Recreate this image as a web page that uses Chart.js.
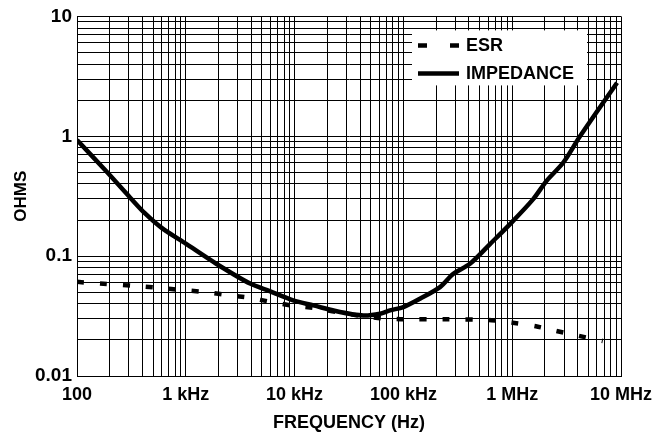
<!DOCTYPE html>
<html>
<head>
<meta charset="utf-8">
<script src="https://cdn.jsdelivr.net/npm/chart.js@4"></script>
<style>
  html, body { margin: 0; padding: 0; background: #fff; }
  #wrap { width: 672px; height: 434px; }
</style>
</head>
<body>
<div id="wrap"><canvas id="esrChart" width="672" height="434"></canvas></div>
<script>
// Data (Hz, ohms)
const ESR_FREQ = [100, 163, 402, 1000, 1556, 2550, 3800, 6150, 9700, 16500, 25000, 40000, 63000, 100000, 250000, 612000, 1050000, 1650000, 2530000, 4110000, 6800000];
const ESR_OHMS = [0.061, 0.059, 0.0558, 0.0518, 0.050, 0.047, 0.045, 0.0414, 0.0386, 0.0365, 0.034, 0.0318, 0.0303, 0.0297, 0.0297, 0.0293, 0.0277, 0.026, 0.0238, 0.0216, 0.0196];

const IMP_FREQ = [100, 184, 307, 420, 600, 1000, 1920, 3900, 5900, 9700, 14900, 26100, 42800, 61000, 75300, 100000, 142000, 217000, 288000, 409000, 625000, 955000, 1560000, 2070000, 2950000, 4200000, 9200000];
const IMP_OHMS = [0.93, 0.515, 0.309, 0.228, 0.172, 0.127, 0.086, 0.059, 0.051, 0.0428, 0.0388, 0.0342, 0.032, 0.0331, 0.0353, 0.0376, 0.0441, 0.0551, 0.0713, 0.0863, 0.126, 0.185, 0.299, 0.425, 0.604, 1.0, 2.8];

const X_TICKS = [100, 1e3, 1e4, 1e5, 1e6, 1e7];
const X_LABELS = ['100', '1 kHz', '10 kHz', '100 kHz', '1 MHz', '10 MHz'];
const Y_TICKS = [0.01, 0.1, 1, 10];
const Y_LABELS = ['0.01', '0.1', '1', '10'];

const FONT = '"Liberation Sans", Arial, Helvetica, sans-serif';

const pairs = (xs, ys) => xs.map((x, i) => ({ x, y: ys[i] }));

// every 1..9 x 10^n between min and max, for the log grid
function logGrid(min, max) {
  const out = [];
  for (let e = Math.floor(Math.log10(min)); e <= Math.ceil(Math.log10(max)); e++) {
    for (let m = 1; m <= 9; m++) {
      const v = m * Math.pow(10, e);
      if (v >= min * 0.999 && v <= max * 1.001) out.push({ value: v });
    }
  }
  return out;
}

function labelFor(value, ticks, labels) {
  const i = ticks.findIndex(t => Math.abs(Math.log10(t) - Math.log10(value)) < 1e-6);
  return i >= 0 ? labels[i] : '';
}

// legend box drawn inside the plot, over the grid
const legendBox = {
  id: 'legendBox',
  afterDatasetsDraw(chart) {
    const ctx = chart.ctx;
    const a = chart.chartArea;
    const x0 = a.left + 335, y0 = a.top + 14, w = 175, h = 55;
    ctx.save();
    ctx.fillStyle = '#fff';
    ctx.fillRect(x0, y0, w, h);
    chart.data.datasets.forEach((ds, i) => {
      const y = y0 + 15 + i * 28;
      ctx.beginPath();
      ctx.strokeStyle = '#000';
      ctx.lineWidth = ds.borderWidth;
      ctx.lineCap = 'butt';
      ctx.setLineDash(i === 0 ? [9, 23] : []);
      ctx.moveTo(x0 + 6, y);
      ctx.lineTo(x0 + 47, y);
      ctx.stroke();
      ctx.setLineDash([]);
      ctx.fillStyle = '#000';
      ctx.font = 'bold 18px ' + FONT;
      ctx.textBaseline = 'middle';
      ctx.fillText(ds.label, x0 + 54, y + 1);
    });
    ctx.restore();
  }
};

new Chart(document.getElementById('esrChart').getContext('2d'), {
  type: 'line',
  data: {
    datasets: [
      { label: 'ESR', data: pairs(ESR_FREQ, ESR_OHMS), borderColor: '#000', borderWidth: 4.5, borderDash: [7, 16], borderCapStyle: 'butt', pointRadius: 0, tension: 0.2, fill: false },
      { label: 'IMPEDANCE', data: pairs(IMP_FREQ, IMP_OHMS), borderColor: '#000', borderWidth: 4.5, pointRadius: 0, tension: 0.3, fill: false }
    ]
  },
  options: {
    responsive: false,
    animation: false,
    layout: { padding: { top: 15, right: 51, left: 0, bottom: 0 } },
    plugins: { legend: { display: false }, tooltip: { enabled: false } },
    scales: {
      x: {
        type: 'logarithmic', min: 100, max: 1e7,
        afterBuildTicks: s => { s.ticks = logGrid(100, 1e7); },
        afterFit: s => { s.height = 58; },
        grid: { color: '#000', lineWidth: 1, drawTicks: false },
        border: { color: '#000', width: 1 },
        ticks: {
          autoSkip: false, maxRotation: 0, padding: 8, color: '#000',
          font: { family: FONT, size: 18, weight: 'bold' },
          callback: v => labelFor(v, X_TICKS, X_LABELS)
        },
        title: { display: true, text: 'FREQUENCY (Hz)', color: '#000', padding: { top: 1, bottom: 0 }, font: { family: FONT, size: 18, weight: 'bold' } }
      },
      y: {
        type: 'logarithmic', min: 0.01, max: 10,
        afterBuildTicks: s => { s.ticks = logGrid(0.01, 10); },
        afterFit: s => { s.width = 77; },
        grid: { color: '#000', lineWidth: 1, drawTicks: false },
        border: { color: '#000', width: 1 },
        ticks: {
          autoSkip: false, padding: 5, color: '#000',
          font: { family: FONT, size: 19, weight: 'bold' },
          callback: v => labelFor(v, Y_TICKS, Y_LABELS)
        },
        title: { display: true, text: 'OHMS', color: '#000', padding: { top: 11, bottom: 0 }, font: { family: FONT, size: 17, weight: 'bold' } }
      }
    }
  },
  plugins: [legendBox]
});
</script>
</body>
</html>
